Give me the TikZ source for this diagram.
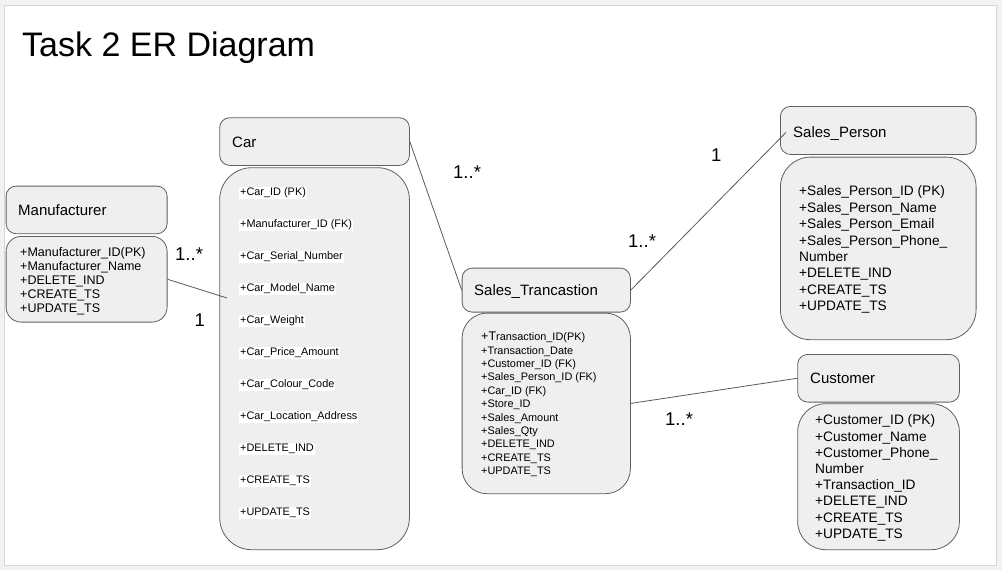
\documentclass[tikz,border=0pt]{standalone}
\usepackage{fontspec}
\setmainfont{Liberation Sans}
\definecolor{outerbg}{HTML}{F1F2F3}
\definecolor{framec}{HTML}{D6D6D6}
\definecolor{boxfill}{HTML}{EFEFEF}
\definecolor{boxline}{HTML}{5F5F5F}
\definecolor{linkc}{HTML}{5A5A5A}
\begin{document}
\begin{tikzpicture}[x=1pt,y=-1pt,
  box/.style={draw=boxline,fill=boxfill,line width=0.8pt,inner sep=0pt,anchor=north west},
  hdr/.style={box,rounded corners=10pt},
  hdrtext/.style={anchor=base west,inner sep=0pt,font=\fontsize{15}{18}\selectfont},
  attrA/.style={anchor=base west,inner sep=0pt,font=\fontsize{12.5}{14}\selectfont},
  attrS/.style={anchor=base west,inner sep=1pt,fill=white,font=\fontsize{10.9}{12}\selectfont},
  attrT/.style={anchor=base west,inner sep=0pt,font=\fontsize{10.9}{12}\selectfont},
  attrL/.style={anchor=base west,inner sep=0pt,font=\fontsize{13.7}{16}\selectfont},
  mult/.style={anchor=base west,inner sep=0pt,font=\fontsize{18.5}{20}\selectfont},
  link/.style={draw=linkc,line width=0.8pt}]
\useasboundingbox (0,0) rectangle (1002,570);
\fill[outerbg] (0,0) rectangle (1002,570);
\draw[framec,fill=white,line width=0.8pt] (4.5,5) rectangle (996.5,565);

\node[anchor=base west,inner sep=0pt,font=\fontsize{34}{40}\selectfont] (title) at (22,56.7) {Task 2 ER Diagram};

% Manufacturer
\node[hdr,minimum width=161pt,minimum height=47.6pt] (mfrH) at (5.7,185.7) {};
\node[hdrtext] (mfrT) at (18,215.4) {Manufacturer};
\node[box,rounded corners=15pt,minimum width=161pt,minimum height=85.7pt] (mfrB) at (5.7,236) {};
\foreach \t [count=\i] in {+Manufacturer\_ID(PK),+Manufacturer\_Name,+DELETE\_IND,+CREATE\_TS,+UPDATE\_TS}
  \node[attrA] (mfrA\i) at (20,256.5+14*\i-14) {\t};

% Car
\node[hdr,minimum width=189.7pt,minimum height=47.7pt] (carH) at (219.3,117.3) {};
\node[hdrtext] (carT) at (232,147.7) {Car};
\node[box,rounded corners=32pt,minimum width=189.7pt,minimum height=382pt] (carB) at (219.3,167.3) {};
\foreach \t [count=\i] in {+Car\_ID (PK),+Manufacturer\_ID (FK),+Car\_Serial\_Number,+Car\_Model\_Name,+Car\_Weight,+Car\_Price\_Amount,+Car\_Colour\_Code,+Car\_Location\_Address,+DELETE\_IND,+CREATE\_TS,+UPDATE\_TS}
  \node[attrS] (carA\i) at (239,195.6+32*\i-32) {\t};

% Sales_Trancastion
\node[hdr,minimum width=168.3pt,minimum height=44pt] (stH) at (461.7,267.7) {};
\node[hdrtext] (stT) at (474,295.4) {Sales\_Trancastion};
\node[box,rounded corners=25pt,minimum width=168.3pt,minimum height=180.6pt] (stB) at (461.7,312.7) {};
\node[attrT] (stA1) at (481,340.6) {{\fontsize{12.5}{14}\selectfont +T}ransaction\_ID(PK)};
\foreach \t [count=\i from 2] in {+Transaction\_Date,+Customer\_ID (FK),+Sales\_Person\_ID (FK),+Car\_ID (FK),+Store\_ID,+Sales\_Amount,+Sales\_Qty,+DELETE\_IND,+CREATE\_TS,+UPDATE\_TS}
  \node[attrT] (stA\i) at (481,340.6+13.4*\i-13.4) {\t};

% Sales_Person
\node[hdr,minimum width=195.7pt,minimum height=48pt] (spH) at (780,106) {};
\node[hdrtext] (spT) at (793,137.1) {Sales\_Person};
\node[box,rounded corners=30pt,minimum width=195.7pt,minimum height=182.6pt] (spB) at (780,156.7) {};
\foreach \t [count=\i] in {+Sales\_Person\_ID (PK),+Sales\_Person\_Name,+Sales\_Person\_Email,+Sales\_Person\_Phone\_,Number,+DELETE\_IND,+CREATE\_TS,+UPDATE\_TS}
  \node[attrL] (spA\i) at (799,195.9+16.4*\i-16.4) {\t};

% Customer
\node[hdr,minimum width=161.7pt,minimum height=47.7pt] (cuH) at (797.3,354) {};
\node[hdrtext] (cuT) at (810,383.1) {Customer};
\node[box,rounded corners=28pt,minimum width=161.7pt,minimum height=146pt] (cuB) at (797.3,403.3) {};
\foreach \t [count=\i] in {+Customer\_ID (PK),+Customer\_Name,+Customer\_Phone\_,Number,+Transaction\_ID,+DELETE\_IND,+CREATE\_TS,+UPDATE\_TS}
  \node[attrL] (cuA\i) at (815,424.9+16.2*\i-16.2) {\t};

% connectors
\coordinate (carIn) at (227,298);
\draw[link] (mfrB.east) -- (carIn);
\draw[link] (carH.east) -- (stH.west);
\draw[link] (stH.east) -- ([xshift=6pt,yshift=-2pt]spH.west);
\draw[link] (stB.east) -- (cuH.west);

% multiplicities
\node[mult] (m1) at (175,260.7) {1..*};
\node[mult] (m2) at (194.5,326.7) {1};
\node[mult] (m3) at (453,178.7) {1..*};
\node[mult] (m4) at (711,161) {1};
\node[mult] (m5) at (628,247) {1..*};
\node[mult] (m6) at (665,425) {1..*};
\end{tikzpicture}
\end{document}
